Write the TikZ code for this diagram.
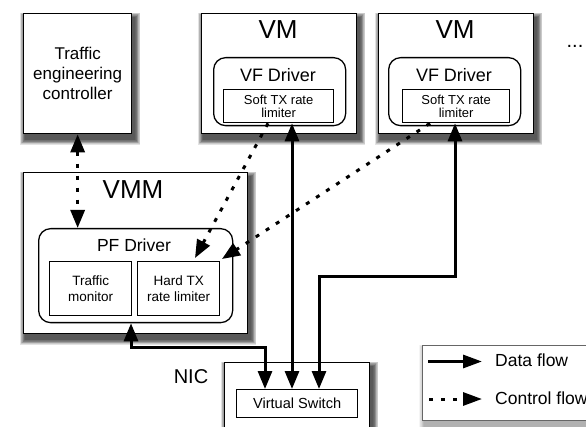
\documentclass[tikz,border=0pt]{standalone}
\usepackage{fontspec}
\setmainfont{Liberation Sans}
\usetikzlibrary{arrows.meta,calc}

\newcommand\fsz[2]{\fontsize{#1}{#2}\selectfont}
% soft drop shadow under a named node: stacked translucent rectangles
\newcommand\softshadow[2][0.11]{%
  \foreach \r in {0.6,1.2,...,5.4}{%
    \fill[black, opacity=#1] ([shift={(2.5-\r,5-\r)}]#2.north west) rectangle ([shift={(2.5+\r,5+\r)}]#2.south east);}}

\pgfdeclarelayer{background}
\pgfsetlayers{background,main}

\begin{document}
\begin{tikzpicture}[x=1pt,y=-1pt,
  box/.style={draw, line width=1.3pt, fill=white, inner sep=0pt, anchor=north west, align=center},
  driver/.style={box, rounded corners=12pt},
  txt/.style={inner sep=0pt},
  bigtip/.tip={Triangle[length=18pt,width=14pt]},
  legtip/.tip={Triangle[length=19pt,width=13pt]},
  data/.style={line width=3pt},
  ctrl/.style={line width=3pt, dash pattern=on 4pt off 8pt},
]
\useasboundingbox (0,0) rectangle (586,427);

% outer boxes
\node[box, minimum width=108pt, minimum height=120pt, font=\fsz{17}{20}] (tec) at (23,13) {Traffic\\engineering\\controller};
\node[box, minimum width=155pt, minimum height=120pt] (vm1) at (201,13) {};
\node[box, minimum width=155pt, minimum height=120pt] (vm2) at (378,13) {};
\node[box, minimum width=224pt, minimum height=161pt] (vmm) at (23,172) {};
\node[box, minimum width=145pt, minimum height=80pt] (nic) at (224,362) {};
\node[box, draw=black!60, line width=1pt, minimum width=190pt, minimum height=75pt] (leg) at (422,345) {};

\begin{pgfonlayer}{background}
  \softshadow{tec}
  \softshadow{vm1}
  \softshadow{vm2}
  \softshadow{vmm}
  \softshadow{nic}
  \softshadow[0.04]{leg}
\end{pgfonlayer}

% drivers and their parts
\node[driver, minimum width=132pt, minimum height=68pt] (vf1) at (213,57) {};
\node[box, minimum width=110pt, minimum height=33pt, font=\fsz{13}{13.5}] (st1) at (223,89) {Soft TX rate\\limiter};
\node[driver, minimum width=132pt, minimum height=68pt] (vf2) at (388,57) {};
\node[box, minimum width=107pt, minimum height=33pt, font=\fsz{13}{13.5}] (st2) at (402,89) {Soft TX rate\\limiter};
\node[driver, minimum width=194pt, minimum height=94pt] (pf) at (38,228) {};
\node[box, minimum width=82pt, minimum height=54pt, font=\fsz{13.5}{15.7}] (tm) at (49,261) {Traffic\\monitor};
\node[box, minimum width=82pt, minimum height=54pt, font=\fsz{13.5}{15.7}] (htx) at (137,261) {Hard TX\\rate limiter};
\node[box, minimum width=121pt, minimum height=28pt, font=\fsz{14.6}{17}] (vs) at (236,389) {Virtual Switch};

% titles
\node[txt, font=\fsz{26}{30}] (vm1t) at (278,29.5) {VM};
\node[txt, font=\fsz{26}{30}] (vm2t) at (455,29.5) {VM};
\node[txt, font=\fsz{26}{30}] (vmmt) at (133,190) {VMM};
\node[txt, font=\fsz{18}{20}] (vf1t) at (278,75.5) {VF Driver};
\node[txt, font=\fsz{18}{20}] (vf2t) at (454,75.5) {VF Driver};
\node[txt, font=\fsz{17.5}{20}] (pft) at (134,245) {PF Driver};
\node[txt, font=\fsz{20}{24}] (nict) at (191,377) {NIC};
\node[txt, font=\fsz{20}{24}, anchor=base] (more) at (575,48) {...};

% legend
\node[txt, font=\fsz{17.5}{20}, anchor=west] (ldata) at (495,360.5) {Data flow};
\node[txt, font=\fsz{17.5}{20}, anchor=west] (lctrl) at (495,398) {Control flow};
\coordinate (l1a) at (428,361.5);
\coordinate (l1b) at (482,361.5);
\coordinate (l2a) at (429,399);
\coordinate (l2b) at (482,399);
\draw[data, -legtip] (l1a) -- (l1b);
\draw[ctrl, -legtip] (l2a) -- (l2b);

% connector guide positions
\coordinate (xa) at (292,0);
\coordinate (xb) at (319,0);
\coordinate (xc) at (455,0);
\coordinate (xd) at (265,0);
\coordinate (xe) at (131,0);
\coordinate (xs1) at (268,0);
\coordinate (xs2) at (430,0);
\coordinate (ya) at (0,277);
\coordinate (yb) at (0,348);
\coordinate (h1) at (195,258);
\coordinate (h2) at (222,259);

% data flows
\draw[data, bigtip-bigtip] (st1.south -| xa) -- (vs.north -| xa);
\draw[data, bigtip-bigtip] (st2.south -| xc) -- (xc |- ya) -- (xb |- ya) -- (vs.north -| xb);
\draw[data, bigtip-bigtip] (pf.south -| xe) -- (xe |- yb) -- (xd |- yb) -- (vs.north -| xd);

% control flows
\draw[ctrl, bigtip-bigtip] (tec.south) -- (tec.south |- pf.north);
\draw[ctrl, -bigtip] (st1.south -| xs1) -- (h1);
\draw[ctrl, -bigtip] (st2.south -| xs2) -- (h2);
\end{tikzpicture}
\end{document}
